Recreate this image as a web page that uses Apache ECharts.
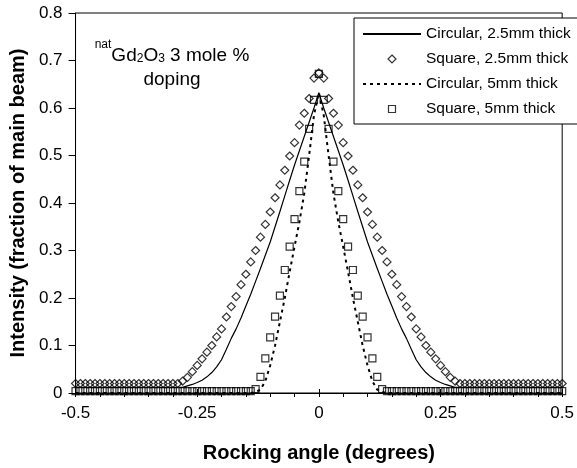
<!DOCTYPE html>
<html><head><meta charset="utf-8">
<script src="https://cdn.jsdelivr.net/npm/echarts@6/dist/echarts.min.js"></script>
<style>html,body{margin:0;padding:0;background:#fff}#c{width:577px;height:468px}</style>
</head><body><div id="c"></div><script>
const angles = [-0.50,-0.49,-0.48,-0.47,-0.46,-0.45,-0.44,-0.43,-0.42,-0.41,
 -0.40,-0.39,-0.38,-0.37,-0.36,-0.35,-0.34,-0.33,-0.32,-0.31,
 -0.30,-0.29,-0.28,-0.27,-0.26,-0.25,-0.24,-0.23,-0.22,-0.21,
 -0.20,-0.19,-0.18,-0.17,-0.16,-0.15,-0.14,-0.13,-0.12,-0.11,
 -0.10,-0.09,-0.08,-0.07,-0.06,-0.05,-0.04,-0.03,-0.02,-0.01,
 0.00,
 0.01,0.02,0.03,0.04,0.05,0.06,0.07,0.08,0.09,0.10,
 0.11,0.12,0.13,0.14,0.15,0.16,0.17,0.18,0.19,0.20,
 0.21,0.22,0.23,0.24,0.25,0.26,0.27,0.28,0.29,0.30,
 0.31,0.32,0.33,0.34,0.35,0.36,0.37,0.38,0.39,0.40,
 0.41,0.42,0.43,0.44,0.45,0.46,0.47,0.48,0.49,0.50];

// Circular, 2.5mm thick (solid line)
const circular25 = [0.012,0.012,0.012,0.012,0.012,0.012,0.012,0.012,0.012,0.012,
 0.012,0.012,0.012,0.012,0.012,0.012,0.012,0.012,0.012,0.012,
 0.012,0.012,0.012,0.015,0.018,0.022,0.027,0.034,0.043,0.055,
 0.070,0.092,0.115,0.135,0.158,0.183,0.208,0.235,0.262,0.290,
 0.318,0.350,0.382,0.415,0.448,0.480,0.510,0.540,0.570,0.600,
 0.632,
 0.600,0.570,0.540,0.510,0.480,0.448,0.415,0.382,0.350,0.318,
 0.290,0.262,0.235,0.208,0.183,0.158,0.135,0.115,0.092,0.070,
 0.055,0.043,0.034,0.027,0.022,0.018,0.015,0.012,0.012,0.012,
 0.012,0.012,0.012,0.012,0.012,0.012,0.012,0.012,0.012,0.012,
 0.012,0.012,0.012,0.012,0.012,0.012,0.012,0.012,0.012,0.012];

// Square, 2.5mm thick (diamonds)
const square25 = [0.020,0.020,0.020,0.020,0.020,0.020,0.020,0.020,0.020,0.020,
 0.020,0.020,0.020,0.020,0.020,0.020,0.020,0.020,0.020,0.020,
 0.020,0.020,0.025,0.033,0.045,0.058,0.072,0.086,0.100,0.118,
 0.135,0.160,0.182,0.203,0.228,0.250,0.276,0.300,0.328,0.355,
 0.381,0.411,0.438,0.469,0.499,0.527,0.564,0.589,0.620,0.663,
 0.674,
 0.663,0.620,0.589,0.564,0.527,0.499,0.469,0.438,0.411,0.381,
 0.355,0.328,0.300,0.276,0.250,0.228,0.203,0.182,0.160,0.135,
 0.118,0.100,0.086,0.072,0.058,0.045,0.033,0.025,0.020,0.020,
 0.020,0.020,0.020,0.020,0.020,0.020,0.020,0.020,0.020,0.020,
 0.020,0.020,0.020,0.020,0.020,0.020,0.020,0.020,0.020,0.020];

// Circular, 5mm thick (dotted line)
const circular5 = [0,0,0,0,0,0,0,0,0,0,
 0,0,0,0,0,0,0,0,0,0,
 0,0,0,0,0,0,0,0,0,0,
 0,0,0,0,0,0,0,0.002,0.007,0.025,
 0.058,0.100,0.150,0.200,0.255,0.308,0.360,0.420,0.500,0.585,
 0.632,
 0.585,0.500,0.420,0.360,0.308,0.255,0.200,0.150,0.100,0.058,
 0.025,0.007,0.002,0,0,0,0,0,0,0,
 0,0,0,0,0,0,0,0,0,0,
 0,0,0,0,0,0,0,0,0,0,
 0,0,0,0,0,0,0,0,0,0];

// Square, 5mm thick (squares)
const square5 = [0.004,0.004,0.004,0.004,0.004,0.004,0.004,0.004,0.004,0.004,
 0.004,0.004,0.004,0.004,0.004,0.004,0.004,0.004,0.004,0.004,
 0.004,0.004,0.004,0.004,0.004,0.004,0.004,0.004,0.004,0.004,
 0.004,0.004,0.004,0.004,0.004,0.004,0.004,0.008,0.034,0.073,
 0.117,0.161,0.205,0.259,0.308,0.366,0.425,0.487,0.556,0.617,
 0.672,
 0.617,0.556,0.487,0.425,0.366,0.308,0.259,0.205,0.161,0.117,
 0.073,0.034,0.008,0.004,0.004,0.004,0.004,0.004,0.004,0.004,
 0.004,0.004,0.004,0.004,0.004,0.004,0.004,0.004,0.004,0.004,
 0.004,0.004,0.004,0.004,0.004,0.004,0.004,0.004,0.004,0.004,
 0.004,0.004,0.004,0.004,0.004,0.004,0.004,0.004,0.004,0.004];

const seriesNames = ['Circular, 2.5mm thick','Square, 2.5mm thick','Circular, 5mm thick','Square, 5mm thick'];
const xTickLabels = ['-0.5','-0.25','0','0.25','0.5'];
const yTickLabels = ['0','0.1','0.2','0.3','0.4','0.5','0.6','0.7','0.8'];

const FONT = '"Liberation Sans", Arial, sans-serif';
const pairs = arr => angles.map((a, i) => [a, arr[i]]);
const hollow = {color: 'rgba(0,0,0,0)', borderColor: '#000', borderWidth: 1.2};
const noDot = {color: 'rgba(0,0,0,0)', borderColor: 'rgba(0,0,0,0)', borderWidth: 0};
// legend icons: marker centred in a 58 x 8 icon box
const diamondIcon = 'path://M0 4M58 4M29 0L33 4L29 8L25 4Z';
const squareIcon = 'path://M0 4M58 4M25.5 0.5L32.5 0.5L32.5 7.5L25.5 7.5Z';

const chart = echarts.init(document.getElementById('c'), null, {renderer: 'canvas'});
chart.setOption({
  animation: false,
  backgroundColor: '#fff',
  grid: {left: 75, right: 13, top: 13, bottom: 75, show: true, borderColor: '#000', borderWidth: 1, backgroundColor: 'transparent'},
  xAxis: [{
    type: 'value', min: -0.5, max: 0.5, interval: 0.25,
    axisLine: {onZero: false, lineStyle: {color: '#000', width: 1}},
    axisTick: {show: true, length: 4, lineStyle: {color: '#000'}},
    minorTick: {show: true, splitNumber: 5, length: 4, lineStyle: {color: '#000'}},
    splitLine: {show: false},
    axisLabel: {color: '#000', fontSize: 17, fontFamily: FONT, margin: 12,
      formatter: (v, i) => xTickLabels[i]},
    name: 'Rocking angle (degrees)', nameLocation: 'middle', nameGap: 50,
    nameTextStyle: {color: '#000', fontSize: 20, fontWeight: 'bold', fontFamily: FONT}
  }, {
    type: 'value', min: -0.5, max: 0.5, interval: 0.25, position: 'bottom',
    axisLine: {show: false}, axisLabel: {show: false}, splitLine: {show: false},
    axisTick: {show: true, inside: true, length: 4, lineStyle: {color: '#000'}}
  }],
  yAxis: {
    type: 'value', min: 0, max: 0.8, interval: 0.1,
    axisLine: {show: true, onZero: false, lineStyle: {color: '#000', width: 1}},
    axisTick: {show: true, length: 7, lineStyle: {color: '#000'}},
    splitLine: {show: false},
    axisLabel: {color: '#000', fontSize: 17, fontFamily: FONT, margin: 13,
      formatter: (v, i) => yTickLabels[i]},
    name: 'Intensity (fraction of main beam)', nameLocation: 'middle', nameGap: 44,
    nameTextStyle: {color: '#000', fontSize: 20, fontWeight: 'bold', fontFamily: FONT}
  },
  legend: {
    data: [
      {name: seriesNames[0], itemStyle: noDot},
      {name: seriesNames[1], icon: diamondIcon, itemStyle: hollow},
      {name: seriesNames[2], itemStyle: noDot},
      {name: seriesNames[3], icon: squareIcon, itemStyle: hollow}
    ],
    orient: 'vertical', left: 354, top: 18,
    itemWidth: 58, itemHeight: 8, itemGap: 9,
    symbolKeepAspect: true,
    padding: [8, 8, 7, 8],
    borderColor: '#000', borderWidth: 1, backgroundColor: '#fff',
    selectedMode: false,
    textStyle: {color: '#000', fontSize: 15.5, fontFamily: FONT}
  },
  graphic: [{
    type: 'text', x: 172, y: 35, z: 100,
    style: {
      text: '{sup|nat}{m|Gd}{sub|2}{m|O}{sub|3}{m| 3 mole %}\n{m|doping}',
      align: 'center', verticalAlign: 'top', fill: '#000',
      rich: {
        m: {fontSize: 19, fontFamily: FONT, lineHeight: 24, verticalAlign: 'bottom', fill: '#000'},
        sup: {fontSize: 12, fontFamily: FONT, lineHeight: 30, verticalAlign: 'top', padding: [4, 0, 0, 0], fill: '#000'},
        sub: {fontSize: 12, fontFamily: FONT, lineHeight: 24, verticalAlign: 'bottom', fill: '#000'}
      }
    }
  }],
  series: [{
    name: seriesNames[0], type: 'line', data: pairs(circular25),
    symbol: 'none', showSymbol: false, z: 3,
    lineStyle: {color: '#000', width: 1.2}, itemStyle: {color: '#000'}
  }, {
    name: seriesNames[1], type: 'scatter', data: pairs(square25),
    symbol: 'diamond', symbolSize: 8, z: 4, itemStyle: hollow
  }, {
    name: seriesNames[2], type: 'line', data: pairs(circular5),
    symbol: 'none', showSymbol: false, z: 3,
    lineStyle: {color: '#000', width: 2, type: [3, 4]}, itemStyle: {color: '#000'}
  }, {
    name: seriesNames[3], type: 'scatter', data: pairs(square5),
    symbol: 'rect', symbolSize: 7, z: 4, itemStyle: hollow
  }]
});
</script></body></html>
